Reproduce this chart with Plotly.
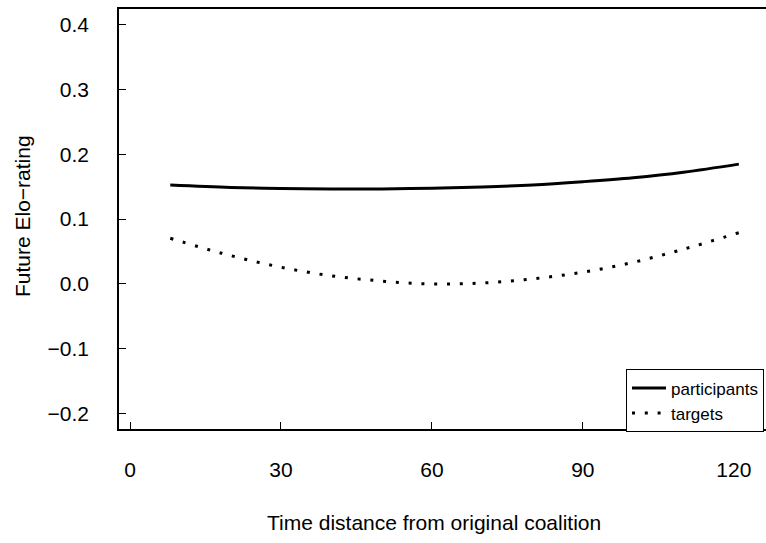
import plotly.graph_objects as go

# Data
x_participants = [8, 20, 30, 40, 50, 60, 70, 80, 90, 100, 110, 121]
y_participants = [0.1527, 0.1490, 0.1472, 0.1465, 0.1467, 0.1478, 0.1497, 0.1527, 0.1578, 0.1640, 0.1725, 0.1850]

x_targets = [8, 18.2, 28.4, 38.6, 48.8, 59, 69.2, 79.4, 89.6, 99.8, 110, 121]
y_targets = [0.0704, 0.0473, 0.0283, 0.0139, 0.0051, 0.0000, 0.0010, 0.0072, 0.0175, 0.0329, 0.0535, 0.0790]

x_ticks = [0, 30, 60, 90, 120]
y_ticks = [-0.2, -0.1, 0.0, 0.1, 0.2, 0.3, 0.4]

series_names = ["participants", "targets"]
x_title = "Time distance from original coalition"
y_title = "Future Elo\u2212rating"

FONT = "Liberation Sans, Arial, Helvetica, sans-serif"

fig = go.Figure()
fig.add_trace(go.Scatter(
    x=x_participants, y=y_participants, mode="lines", name=series_names[0],
    line=dict(color="black", width=3, shape="spline"),
))
fig.add_trace(go.Scatter(
    x=x_targets, y=y_targets, mode="lines", name=series_names[1],
    line=dict(color="black", width=3, shape="spline", dash="3px,9.8px"),
))

axis_common = dict(
    showgrid=False, zeroline=False, showline=True, linecolor="black", linewidth=1.6,
    ticks="inside", ticklen=7, tickwidth=1.2, tickcolor="black",
    tickfont=dict(family=FONT, size=21, color="black"),
)

fig.update_xaxes(
    range=[-2.19, 126.4], tickvals=x_ticks, mirror=True,
    ticklabelstandoff=21, **axis_common,
)
fig.update_yaxes(
    range=[-0.2243, 0.4247], tickvals=y_ticks, tickformat=".1f",
    ticklabelstandoff=24, **axis_common,
)

fig.add_annotation(
    text=x_title, xref="paper", yref="paper", x=0.4869, y=0,
    xanchor="center", yanchor="middle", yshift=-93, showarrow=False,
    font=dict(family=FONT, size=21, color="black"),
)
fig.add_annotation(
    text=y_title, xref="paper", yref="paper", x=0, y=0.507,
    xanchor="center", yanchor="middle", xshift=-97, textangle=-90, showarrow=False,
    font=dict(family=FONT, size=21, color="black"),
)

fig.update_layout(
    width=766, height=543,
    margin=dict(l=119, r=0, t=9, b=114),
    paper_bgcolor="white", plot_bgcolor="white",
    showlegend=True,
    legend=dict(
        x=0.7836, y=0.142, xanchor="left", yanchor="top",
        bordercolor="black", borderwidth=1, bgcolor="white",
        itemwidth=34,
        font=dict(family=FONT, size=17, color="black"),
    ),
)

fig.write_html("out.html")
